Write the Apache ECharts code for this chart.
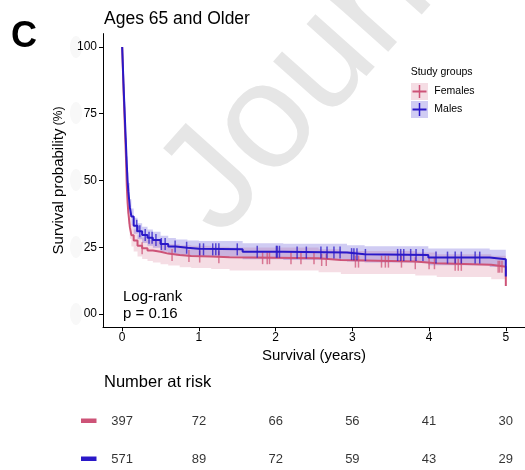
<!DOCTYPE html>
<html><head><meta charset="utf-8">
<script src="https://cdn.jsdelivr.net/npm/echarts@6/dist/echarts.min.js"></script>
<style>html,body{margin:0;padding:0;background:#fff}#c{width:525px;height:470px}</style>
</head><body><div id="c"></div>
<script>
// ---- data ----
const femaleTimes = [0, 0.01, 0.02, 0.03, 0.04, 0.05, 0.06, 0.07, 0.08, 0.1, 0.12, 0.15, 0.2, 0.26, 0.33, 0.4, 0.5, 0.6, 0.75, 0.9, 1.16, 1.4, 2.56, 2.85, 3.82, 4.1, 4.81, 5.0];
const femaleSurv  = [100, 91, 82, 74, 66, 58, 48, 42, 38, 32.5, 29.5, 27.5, 25.5, 24.6, 23.8, 23.3, 22.6, 22.1, 21.7, 21.5, 21.2, 20.9, 20.2, 19.6, 19.0, 18.4, 17.7, 10.5];
const femaleUpper = [100, 93, 85, 77.5, 70, 62, 52.5, 46.5, 42.3, 36.8, 33.7, 31.6, 29.5, 28.6, 27.8, 27.3, 26.6, 26.1, 25.7, 25.5, 25.2, 24.9, 24.2, 23.6, 23.0, 22.4, 21.8, 14];
const femaleLower = [100, 88.5, 79, 70.5, 62, 54, 43.5, 37.5, 33.7, 28.2, 25.3, 23.4, 21.5, 20.6, 19.8, 19.3, 18.6, 18.1, 17.5, 17.2, 16.8, 16.3, 15.6, 15.0, 14.4, 13.8, 13.0, 6];
const femaleCensor = [0.26, 0.65, 0.87, 1.01, 1.26, 1.83, 1.89, 1.92, 2.20, 2.33, 2.50, 2.60, 2.66, 3.04, 3.08, 3.38, 3.43, 3.47, 3.64, 3.82, 4.00, 4.07, 4.34, 4.38, 4.42, 4.90, 4.92, 4.95];

const maleTimes = [0, 0.01, 0.02, 0.03, 0.04, 0.05, 0.06, 0.07, 0.08, 0.1, 0.12, 0.15, 0.2, 0.26, 0.33, 0.4, 0.5, 0.6, 0.7, 0.85, 1.0, 1.57, 2.1, 2.93, 3.16, 3.99, 4.79, 5.0];
const maleSurv  = [100, 92, 84, 77, 70, 63, 56, 50, 46, 40, 36.5, 33, 31, 29.6, 28.5, 27.7, 26.2, 25.3, 24.8, 24.4, 24.2, 23.3, 23.0, 22.4, 22.1, 21.1, 20.5, 14];
const maleUpper = [100, 93.5, 86, 79.5, 72.5, 66, 59, 53, 49, 43, 39.5, 36, 34, 32.7, 31.6, 30.8, 29.3, 28.4, 27.9, 27.5, 27.3, 26.5, 26.3, 25.7, 25.4, 24.5, 24, 18];
const maleLower = [100, 90, 82, 74.5, 67.5, 60, 53, 47, 43, 37, 33.5, 30, 28, 26.6, 25.5, 24.8, 23.3, 22.4, 21.9, 21.6, 21.4, 20.5, 20.2, 19.6, 19.3, 18.2, 17.6, 10.5];
const maleCensor = [0.19, 0.23, 0.30, 0.35, 0.39, 0.44, 0.51, 0.56, 0.69, 0.84, 1.01, 1.06, 1.18, 1.22, 1.26, 1.50, 1.76, 2.01, 2.02, 2.05, 2.28, 2.40, 2.59, 2.67, 2.76, 2.84, 2.99, 3.02, 3.06, 3.17, 3.59, 3.63, 3.67, 3.76, 3.83, 3.92, 4.09, 4.24, 4.34, 4.42, 4.60, 4.66];

const riskTimes = [0, 1, 2, 3, 4, 5];
const riskFemales = [397, 72, 66, 56, 41, 30];
const riskMales = [571, 89, 72, 59, 43, 29];

const xTicks = [0, 1, 2, 3, 4, 5];
const yTicks = [0, 25, 50, 75, 100];
const yTickLabels = ['00', '25', '50', '75', '100'];
const groupNames = ['Females', 'Males'];

// ---- styling ----
const RED = '#CD5377', BLUE = '#2A18C8';
const RED_BAND = 'rgba(205,83,119,0.2)', BLUE_BAND = 'rgba(42,24,200,0.22)';
const FONT = 'Liberation Sans, Arial, sans-serif';

function pairs(t, v) { return t.map((x, i) => [x, v[i]]); }
function stepAt(times, vals, t) { let v = vals[0]; for (let i = 0; i < times.length; i++) if (times[i] <= t) v = vals[i]; return v; }

// step-shaped confidence band drawn through the axes' scales
function bandSeries(times, lo, hi, color) {
  return {
    type: 'custom', silent: true, z: 1, xAxisIndex: 0, yAxisIndex: 0,
    data: times.map((t, i) => [t, lo[i], hi[i]]),
    renderItem: (params, api) => {
      if (params.dataIndex !== 0) return null;
      const up = [], dn = [];
      for (let i = 0; i < times.length; i++) {
        const tNext = i + 1 < times.length ? times[i + 1] : times[i];
        up.push(api.coord([times[i], hi[i]]), api.coord([tNext, hi[i]]));
        dn.push(api.coord([times[i], lo[i]]), api.coord([tNext, lo[i]]));
      }
      return { type: 'polygon', shape: { points: up.concat(dn.reverse()) }, style: { fill: color } };
    }
  };
}

const chart = echarts.init(document.getElementById('c'), null, { renderer: 'canvas' });
const axisLineStyle = { color: '#000', width: 1 };

const option = {
  animation: false,
  textStyle: { fontFamily: FONT },
  grid: [
    { left: 103, top: 33.6, width: 424, height: 293.7 },
    { left: 103, top: 421, width: 424, height: 38 }
  ],
  xAxis: [
    { type: 'value', gridIndex: 0, min: -0.25, max: 5.25,
      axisLine: { show: true, onZero: false, lineStyle: axisLineStyle },
      axisTick: { show: true, length: 4, lineStyle: axisLineStyle, customValues: xTicks },
      axisLabel: { customValues: xTicks, color: '#000', fontSize: 12, margin: 4, fontFamily: FONT },
      splitLine: { show: false },
      name: 'Survival (years)', nameLocation: 'middle', nameGap: 21,
      nameTextStyle: { color: '#000', fontSize: 15, fontFamily: FONT, verticalAlign: 'top' } },
    { type: 'value', gridIndex: 1, min: -0.25, max: 5.25, show: false }
  ],
  yAxis: [
    { type: 'value', gridIndex: 0, min: -5, max: 105,
      axisLine: { show: true, onZero: false, lineStyle: axisLineStyle },
      axisTick: { show: true, length: 4, lineStyle: axisLineStyle, customValues: yTicks },
      axisLabel: { customValues: yTicks, color: '#000', fontSize: 12, margin: 6, fontFamily: FONT,
        formatter: v => yTickLabels[yTicks.indexOf(v)] },
      splitLine: { show: false },
      name: '{a|Survival probability}{b| (%)}', nameLocation: 'middle', nameGap: 32, nameRotate: 90,
      nameTextStyle: { color: '#000', fontFamily: FONT,
        rich: { a: { fontSize: 15, fontFamily: FONT, color: '#000' }, b: { fontSize: 12, fontFamily: FONT, color: '#000' } } } },
    { type: 'category', gridIndex: 1, data: groupNames, inverse: true, boundaryGap: false, show: false }
  ],
  series: [
    bandSeries(femaleTimes, femaleLower, femaleUpper, RED_BAND),
    bandSeries(maleTimes, maleLower, maleUpper, BLUE_BAND),
    { type: 'line', name: 'Females', step: 'end', symbol: 'none', data: pairs(femaleTimes, femaleSurv),
      lineStyle: { color: RED, width: 2 }, z: 3 },
    { type: 'line', name: 'Males', step: 'end', symbol: 'none', data: pairs(maleTimes, maleSurv),
      lineStyle: { color: BLUE, width: 2 }, z: 4 },
    { type: 'scatter', name: 'Females censored', symbol: 'rect', symbolSize: [1.5, 12],
      data: femaleCensor.map(t => [t, stepAt(femaleTimes, femaleSurv, t)]),
      itemStyle: { color: RED, opacity: 0.75 }, z: 3 },
    { type: 'scatter', name: 'Males censored', symbol: 'rect', symbolSize: [1.5, 12],
      data: maleCensor.map(t => [t, stepAt(maleTimes, maleSurv, t)]),
      itemStyle: { color: BLUE, opacity: 0.75 }, z: 4 },
    { type: 'scatter', xAxisIndex: 1, yAxisIndex: 1, symbolSize: 0, silent: true,
      data: riskTimes.map((t, i) => [t, groupNames[0], riskFemales[i]]),
      label: { show: true, position: 'inside', color: '#000', fontSize: 13, fontFamily: FONT, formatter: p => String(p.value[2]) } },
    { type: 'scatter', xAxisIndex: 1, yAxisIndex: 1, symbolSize: 0, silent: true,
      data: riskTimes.map((t, i) => [t, groupNames[1], riskMales[i]]),
      label: { show: true, position: 'inside', color: '#000', fontSize: 13, fontFamily: FONT, formatter: p => String(p.value[2]) } }
  ],
  graphic: [
    // watermark
    { type: 'text', x: 245, y: 262, rotation: 0.84, z: -10, silent: true,
      style: { text: 'Journal Pre-proof', fill: '#e6e6e6', font: '150px ' + FONT, textAlign: 'left', textVerticalAlign: 'bottom' } },
    ...[47, 113, 180, 247, 314].map(cy => ({ type: 'ellipse', z: -10, silent: true,
      shape: { cx: 76, cy: cy, rx: 6, ry: 11 }, style: { fill: '#f8f8f8' } })),
    // panel letter and title
    { type: 'text', x: 11, y: 37.5, style: { text: 'C', font: 'bold 36px ' + FONT, fill: '#000', textVerticalAlign: 'middle' } },
    { type: 'text', x: 104, y: 19.5, style: { text: 'Ages 65 and Older', font: '17.5px ' + FONT, fill: '#000', textVerticalAlign: 'middle' } },
    // log-rank
    { type: 'text', x: 123, y: 297, style: { text: 'Log-rank', font: '15px ' + FONT, fill: '#000', textVerticalAlign: 'middle' } },
    { type: 'text', x: 123, y: 313.5, style: { text: 'p = 0.16', font: '15px ' + FONT, fill: '#000', textVerticalAlign: 'middle' } },
    // legend
    { type: 'text', x: 410.7, y: 72.3, style: { text: 'Study groups', font: '10.5px ' + FONT, fill: '#000', textVerticalAlign: 'middle' } },
    { type: 'rect', shape: { x: 411, y: 83, width: 17, height: 17 }, style: { fill: RED_BAND } },
    { type: 'line', shape: { x1: 412.5, y1: 91.5, x2: 426.5, y2: 91.5 }, style: { stroke: RED, lineWidth: 2 } },
    { type: 'line', shape: { x1: 419.5, y1: 85, x2: 419.5, y2: 98 }, style: { stroke: RED, lineWidth: 1.5 } },
    { type: 'text', x: 434.3, y: 91, style: { text: 'Females', font: '10.5px ' + FONT, fill: '#000', textVerticalAlign: 'middle' } },
    { type: 'rect', shape: { x: 411, y: 101, width: 17, height: 17 }, style: { fill: BLUE_BAND } },
    { type: 'line', shape: { x1: 412.5, y1: 109.5, x2: 426.5, y2: 109.5 }, style: { stroke: BLUE, lineWidth: 2 } },
    { type: 'line', shape: { x1: 419.5, y1: 103, x2: 419.5, y2: 116 }, style: { stroke: BLUE, lineWidth: 1.5 } },
    { type: 'text', x: 434.3, y: 109.3, style: { text: 'Males', font: '10.5px ' + FONT, fill: '#000', textVerticalAlign: 'middle' } },
    // risk table
    { type: 'text', x: 104, y: 382.7, style: { text: 'Number at risk', font: '16.5px ' + FONT, fill: '#000', textVerticalAlign: 'middle' } },
    { type: 'rect', shape: { x: 81, y: 418.5, width: 15.5, height: 4.5 }, style: { fill: RED } },
    { type: 'rect', shape: { x: 81, y: 456.5, width: 15.5, height: 4.5 }, style: { fill: BLUE } }
  ]
};
chart.setOption(option);
</script>
</body></html>
